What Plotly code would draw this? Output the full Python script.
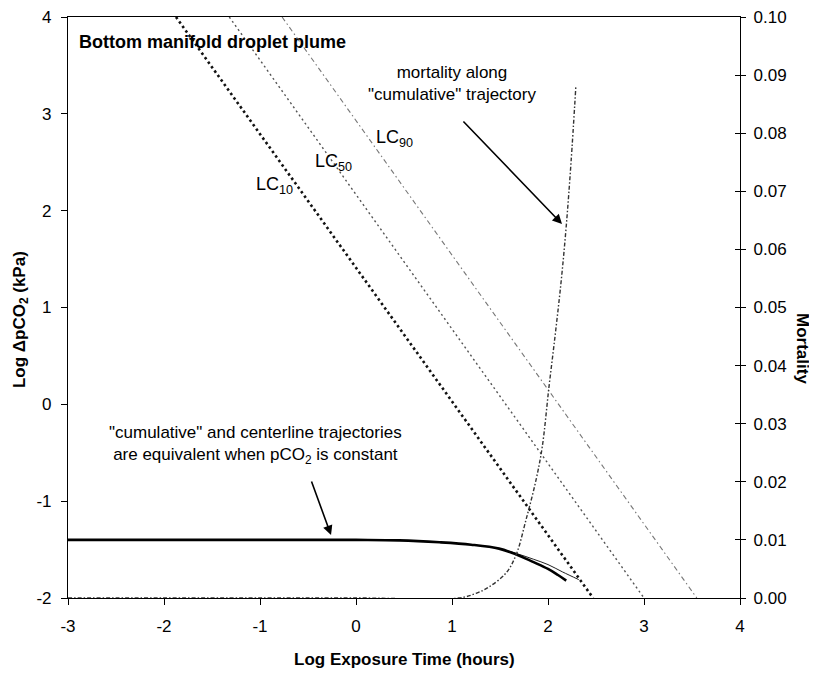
import plotly.graph_objects as go

# ---- data ----
lc10_x = [-1.875, 2.47]
lc10_y = [4.0, -2.0]
lc50_x = [-1.32, 3.0]
lc50_y = [4.0, -2.0]
lc90_x = [-0.77, 3.55]
lc90_y = [4.0, -2.0]

cum_x = [-3.0, 0.0, 0.45, 0.87, 1.2, 1.49, 1.67, 1.85, 2.0, 2.1, 2.19]
cum_y = [-1.40, -1.40, -1.405, -1.425, -1.45, -1.49, -1.55, -1.63, -1.70, -1.76, -1.82]

cen_x = [-3.0, 0.0, 0.45, 0.87, 1.2, 1.49, 1.67, 1.85, 2.0, 2.15, 2.32]
cen_y = [-1.40, -1.40, -1.405, -1.425, -1.45, -1.49, -1.54, -1.60, -1.655, -1.73, -1.81]

mort_x = [-3.0, 0.0, 1.07, 1.25, 1.385, 1.5625, 1.667, 1.77, 1.875, 1.94, 2.01, 2.08, 2.14, 2.19, 2.24, 2.29]
mort_y = [0.0, 0.0, 0.0, 0.0008, 0.0019, 0.0043, 0.0074, 0.0134, 0.0203, 0.026, 0.0363, 0.046, 0.055, 0.064, 0.075, 0.088]

x_ticks = [-3, -2, -1, 0, 1, 2, 3, 4]
x_ticktext = ["-3", "-2", "-1", "0", "1", "2", "3", "4"]
y_ticks = [-2, -1, 0, 1, 2, 3, 4]
y_ticktext = ["-2", "-1", "0", "1", "2", "3", "4"]
y2_ticks = [0.00, 0.01, 0.02, 0.03, 0.04, 0.05, 0.06, 0.07, 0.08, 0.09, 0.10]

FONT = "Liberation Sans, Arial, sans-serif"

fig = go.Figure()

fig.add_trace(go.Scatter(x=lc10_x, y=lc10_y, mode="lines",
                         line=dict(color="#111", width=2.6, dash="2.5px,3px"), showlegend=False))
fig.add_trace(go.Scatter(x=lc50_x, y=lc50_y, mode="lines",
                         line=dict(color="#555", width=1.4, dash="2px,3px"), showlegend=False))
fig.add_trace(go.Scatter(x=lc90_x, y=lc90_y, mode="lines",
                         line=dict(color="#777", width=1.1, dash="5px,3px,1.5px,3px"), showlegend=False))
fig.add_trace(go.Scatter(x=cen_x, y=cen_y, mode="lines", line_shape="spline",
                         line=dict(color="#222", width=1.0), showlegend=False))
fig.add_trace(go.Scatter(x=cum_x, y=cum_y, mode="lines", line_shape="spline",
                         line=dict(color="#000", width=2.6), showlegend=False))
fig.add_trace(go.Scatter(x=mort_x, y=mort_y, mode="lines", yaxis="y2", line_shape="spline",
                         line=dict(color="#333", width=1.4, dash="4px,2px,1.5px,2px"), showlegend=False))

annos = []
# title inside plot
annos.append(dict(xref="paper", yref="paper", x=0.013, y=0.957, xanchor="left", yanchor="middle",
                  text="<b>Bottom manifold droplet plume</b>", showarrow=False,
                  font=dict(size=18, color="#000", family=FONT)))
# LC labels
for txt, x, y in [("LC<sub>10</sub>", -0.854, 2.255), ("LC<sub>50</sub>", -0.23, 2.50), ("LC<sub>90</sub>", 0.406, 2.75)]:
    annos.append(dict(x=x, y=y, text=txt, showarrow=False, font=dict(size=18, color="#000", family=FONT)))
# text annotations
annos.append(dict(x=1.0, y=3.31, text="mortality along<br>\"cumulative\" trajectory", showarrow=False,
                  font=dict(size=17, color="#000", family=FONT)))
annos.append(dict(x=-1.05, y=-0.42, text="\"cumulative\" and centerline trajectories<br>are equivalent when pCO<sub>2</sub> is constant",
                  showarrow=False, font=dict(size=17, color="#000", family=FONT)))
# arrows
annos.append(dict(x=2.146, y=1.862, ax=1.104, ay=2.936, axref="x", ayref="y", text="", showarrow=True,
                  arrowhead=2, arrowsize=1.2, arrowwidth=1.6, arrowcolor="#000"))
annos.append(dict(x=-0.26, y=-1.35, ax=-0.469, ay=-0.782, axref="x", ayref="y", text="", showarrow=True,
                  arrowhead=2, arrowsize=1.2, arrowwidth=1.6, arrowcolor="#000"))
# axis titles
annos.append(dict(xref="paper", yref="paper", x=-0.07, y=0.48, text="<b>Log ΔpCO<sub>2</sub> (kPa)</b>",
                  textangle=-90, showarrow=False, xanchor="center", yanchor="middle",
                  font=dict(size=17, color="#000", family=FONT)))
annos.append(dict(xref="paper", yref="paper", x=1.094, y=0.43, text="<b>Mortality</b>",
                  textangle=90, showarrow=False, xanchor="center", yanchor="middle",
                  font=dict(size=17, color="#000", family=FONT)))
annos.append(dict(xref="paper", yref="paper", x=0.5, y=-0.105, text="<b>Log Exposure Time (hours)</b>",
                  showarrow=False, xanchor="center", yanchor="middle",
                  font=dict(size=17, color="#000", family=FONT)))

# page body has an 8px margin, so the figure is 8px smaller each way
fig.update_layout(
    width=809, height=667,
    margin=dict(l=60, r=77, t=9, b=77, autoexpand=False),
    plot_bgcolor="white", paper_bgcolor="white",
    font=dict(family=FONT, size=17, color="#000"),
    annotations=annos,
    xaxis=dict(range=[-3, 4], tickvals=x_ticks, ticktext=x_ticktext, ticks="outside", ticklen=6, tickcolor="#000",
               showline=True, linecolor="#000", linewidth=1.2, mirror=True, showgrid=False, zeroline=False,
               ticklabelstandoff=6, ticklabeloverflow="allow", automargin=False),
    yaxis=dict(range=[-2, 4], tickvals=y_ticks, ticktext=y_ticktext, ticks="outside", ticklen=6, tickcolor="#000",
               showline=True, linecolor="#000", linewidth=1.2, showgrid=False, zeroline=False,
               ticklabelstandoff=6, ticklabeloverflow="allow", automargin=False),
    yaxis2=dict(range=[0, 0.1], tickvals=y2_ticks, tickformat=".2f", overlaying="y", side="right",
                ticks="outside", ticklen=5, tickcolor="#000", showline=True, linecolor="#000", linewidth=1.2,
                showgrid=False, zeroline=False, anchor="x", ticklabelstandoff=4, ticklabeloverflow="allow",
                automargin=False),
    yaxis3=dict(range=[0, 0.1], tickvals=y2_ticks, overlaying="y", side="right", anchor="x",
                ticks="inside", ticklen=5, tickcolor="#000", showticklabels=False, showline=False,
                showgrid=False, zeroline=False, automargin=False),
)
# invisible point to activate yaxis3 (inside half of the crossing right-axis ticks)
fig.add_trace(go.Scatter(x=[-3], y=[0], yaxis="y3", mode="markers", marker=dict(opacity=0),
                         showlegend=False, hoverinfo="skip"))

fig.write_html("out.html")
